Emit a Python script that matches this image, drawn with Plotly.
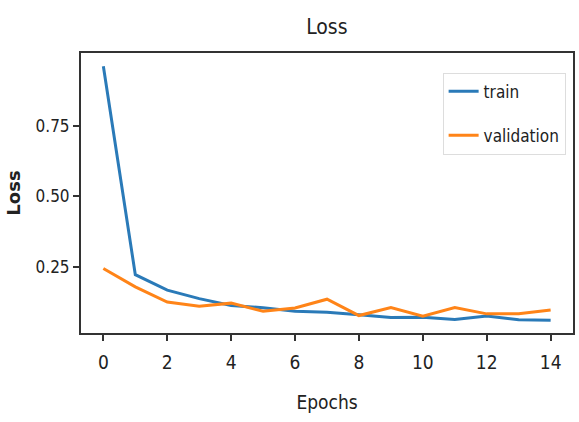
import plotly.graph_objects as go

epochs = list(range(15))
train_loss = [0.962, 0.222, 0.167, 0.137, 0.113, 0.105, 0.092, 0.089, 0.080, 0.070, 0.071, 0.063, 0.075, 0.062, 0.060]
val_loss = [0.244, 0.179, 0.125, 0.110, 0.121, 0.092, 0.104, 0.135, 0.077, 0.105, 0.075, 0.105, 0.083, 0.083, 0.097]
x_ticks = [0, 2, 4, 6, 8, 10, 12, 14]
y_ticks = [0.25, 0.50, 0.75]

FONT = "DejaVu Sans Condensed, Liberation Sans Narrow, DejaVu Sans"

fig = go.Figure()
fig.add_trace(go.Scatter(x=epochs, y=train_loss, mode="lines", name="train",
                         line=dict(color="#2a7ab8", width=3), legendgroup="a"))
fig.add_trace(go.Scatter(x=epochs, y=val_loss, mode="lines", name="validation",
                         line=dict(color="#ff8418", width=3), legendgroup="b"))

axis_common = dict(showgrid=False, zeroline=False, showline=True, linecolor="#333333",
                   linewidth=2, mirror=True, ticks="outside", ticklen=6, tickwidth=1.5,
                   tickcolor="#333333")

fig.update_layout(
    width=579, height=422,
    margin=dict(l=81, r=4, t=53, b=89),
    paper_bgcolor="white", plot_bgcolor="white",
    title=dict(text="Loss", x=0.5645, xanchor="center", y=0.936, yanchor="middle",
               font=dict(family=FONT, size=21, color="#222222")),
    xaxis=dict(range=[-0.7, 14.7], tickvals=x_ticks, ticklabelstandoff=5,
               tickfont=dict(family=FONT, size=19, color="#222222"),
               title=dict(text="Epochs", font=dict(family=FONT, size=19, color="#222222"), standoff=24),
               **axis_common),
    yaxis=dict(range=[0.015, 1.009], tickvals=y_ticks, tickformat=".2f",
               tickfont=dict(family=FONT, size=17, color="#222222"),
               title=dict(text="<b>Loss</b>", font=dict(family="DejaVu Sans", size=18, color="#222222"), standoff=10),
               **axis_common),
    legend=dict(x=0.985, xanchor="right", y=0.93, yanchor="top",
                bgcolor="white", bordercolor="#dddddd", borderwidth=1,
                font=dict(family=FONT, size=17, color="#222222"),
                tracegroupgap=19, itemwidth=30),
    showlegend=True,
)

fig.write_html("out.html")
